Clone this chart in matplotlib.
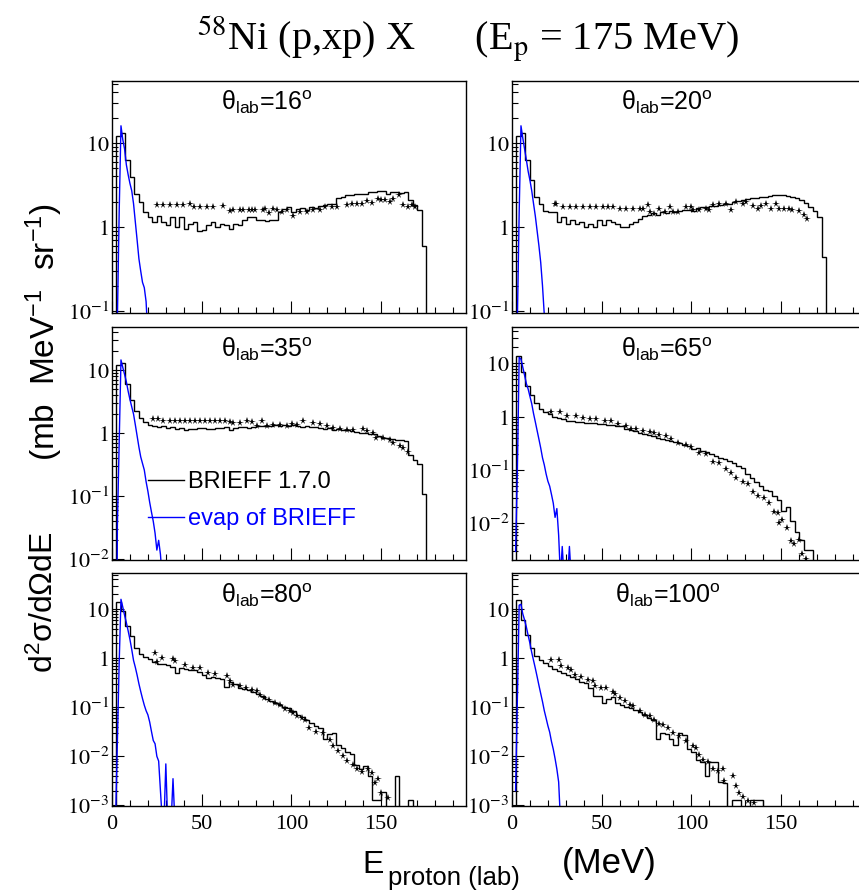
import numpy as np
import matplotlib
matplotlib.use("Agg")
import matplotlib.pyplot as plt
from matplotlib.ticker import FixedLocator, LogLocator, NullFormatter, FuncFormatter, MultipleLocator
from matplotlib.lines import Line2D

# ---------------- data ----------------
EDGES = np.arange(0, 175.01, 2.5)          # BRIEFF histogram bin edges (MeV)
E_EVAP = np.arange(2, 36)                   # evaporation curve energies (MeV)

ANGLES = [16, 20, 35, 65, 80, 100]

H16 = [0, 12, 13, 6.2, 3.9, 2.5, 2.0, 1.5, 1.3, 1.15,
       1.35, 1.15, 1.05, 1.3, 1.0, 1.3, 0.95, 1.08, 1.15, 0.9,
       0.93, 1.05, 1.15, 1.0, 1.1, 1.05, 0.95, 1.08, 1.05, 1.2,
       1.3, 1.3, 1.22, 1.22, 1.18, 1.2, 1.22, 1.5, 1.65, 1.75,
       1.5, 1.65, 1.7, 1.6, 1.75, 1.7, 1.8, 1.85, 1.9, 1.9,
       2.2, 2.3, 2.4, 2.4, 2.45, 2.5, 2.5, 2.6, 2.6, 2.65,
       2.7, 2.5, 2.6, 2.6, 2.55, 2.6, 2.1, 1.85, 1.6, 0.59]
H20 = [0, 12, 13, 6.2, 3.6, 2.3, 1.9, 1.55, 1.5, 1.5,
       1.15, 1.3, 1.1, 1.2, 1.1, 1.15, 1.0, 1.1, 1.0, 1.2,
       1.05, 1.2, 1.15, 1.1, 1.0, 1.0, 1.08, 1.15, 1.25, 1.35,
       1.4, 1.45, 1.4, 1.5, 1.45, 1.55, 1.5, 1.55, 1.6, 1.6,
       1.55, 1.7, 1.75, 1.75, 1.8, 1.8, 1.85, 1.9, 1.9, 2.0,
       2.05, 2.1, 2.15, 2.2, 2.2, 2.25, 2.3, 2.35, 2.4, 2.4,
       2.4, 2.35, 2.3, 2.2, 2.1, 1.95, 1.75, 1.55, 1.3, 0.44]
H35 = [0, 12, 13, 6.0, 3.3, 2.2, 1.7, 1.5, 1.35, 1.3,
       1.25, 1.28, 1.2, 1.25, 1.15, 1.2, 1.1, 1.18, 1.15, 1.2,
       1.2, 1.18, 1.15, 1.2, 1.2, 1.25, 1.1, 1.2, 1.25, 1.25,
       1.2, 1.25, 1.3, 1.3, 1.28, 1.3, 1.32, 1.3, 1.35, 1.3,
       1.32, 1.28, 1.25, 1.28, 1.25, 1.25, 1.2, 1.15, 1.2, 1.12,
       1.15, 1.1, 1.12, 1.08, 1.05, 1.0, 1.02, 0.98, 0.95, 0.9,
       0.85, 0.82, 0.8, 0.78, 0.78, 0.76, 0.45, 0.38, 0.32, 0.11]
H65 = [0, 14, 7, 3.8, 2.6, 1.8, 1.4, 1.25, 1.15, 1.0,
       0.95, 0.9, 0.85, 0.82, 0.8, 0.8, 0.78, 0.76, 0.75, 0.74,
       0.72, 0.7, 0.7, 0.68, 0.66, 0.6, 0.56, 0.55, 0.5, 0.47,
       0.46, 0.43, 0.4, 0.39, 0.37, 0.35, 0.34, 0.32, 0.29, 0.28,
       0.25, 0.26, 0.23, 0.22, 0.2, 0.18, 0.17, 0.16, 0.15, 0.135,
       0.12, 0.11, 0.085, 0.07, 0.06, 0.05, 0.043, 0.04, 0.032, 0.027,
       0.017, 0.02, 0.011, 0.007, 0.005, 0.0032, 0.0032, 0, 0, 0]
H80 = [0, 14, 9, 4.5, 2.8, 1.6, 1.2, 1.05, 0.95, 0.82,
       0.77, 0.77, 0.72, 0.66, 0.5, 0.64, 0.6, 0.58, 0.58, 0.52,
       0.45, 0.4, 0.42, 0.4, 0.38, 0.26, 0.33, 0.3, 0.25, 0.24,
       0.22, 0.2, 0.19, 0.17, 0.15, 0.135, 0.12, 0.11, 0.1, 0.095,
       0.085, 0.07, 0.062, 0.055, 0.048, 0.042, 0.037, 0.022, 0.028, 0.03,
       0.017, 0.015, 0.012, 0.011, 0.0065, 0.0055, 0.0062, 0.004, 0.0013, 0.0013,
       0.0019, 0, 0, 0.004, 0, 0, 0.0013, 0, 0, 0]
H100 = [0, 15, 6, 3, 1.6, 1.1, 0.92, 0.8, 0.7, 0.6,
        0.55, 0.5, 0.46, 0.42, 0.38, 0.33, 0.31, 0.25, 0.17, 0.17,
        0.12, 0.15, 0.16, 0.12, 0.11, 0.1, 0.095, 0.088, 0.08, 0.07,
        0.06, 0.055, 0.022, 0.03, 0.028, 0.022, 0.017, 0.03, 0.027, 0.014,
        0.012, 0.0085, 0.0075, 0.004, 0.0075, 0.0075, 0.003, 0.0028, 0, 0.0013,
        0.0013, 0, 0, 0.0013, 0.0013, 0.0013, 0, 0, 0, 0,
        0, 0, 0, 0, 0, 0, 0, 0, 0, 0]

EV16 = [0, 0.08, 1.5, 16, 11, 8.5, 5.5, 4.2, 3.3, 2.7, 1.9, 1.15, 0.7, 0.42, 0.3, 0.22,
        0.19, 0.13, 0.05, 0, 0, 0, 0, 0, 0, 0, 0, 0, 0, 0, 0, 0, 0, 0]
EV20 = [0, 0.08, 1.5, 16, 11.5, 8.5, 6.3, 4.6, 3.6, 2.7, 1.9, 1.35, 0.9, 0.6, 0.38, 0.2,
        0.09, 0.05, 0, 0, 0, 0, 0, 0, 0, 0, 0, 0, 0, 0, 0, 0, 0, 0]
EV35 = [0, 0.034, 0.7, 14.4, 11, 8.5, 6.5, 4.6, 3.4, 2.6, 2.0, 1.35, 0.9, 0.6, 0.42, 0.33,
        0.26, 0.17, 0.12, 0.08, 0.056, 0.04, 0.026, 0.014, 0.02, 0.012, 0.005, 0, 0, 0, 0, 0, 0, 0]
EV65 = [0.003, 0.1, 13, 12, 8.5, 6, 4.2, 3.3, 2.4, 1.75, 1.15, 0.8, 0.55, 0.38, 0.26, 0.17,
        0.125, 0.085, 0.062, 0.05, 0.035, 0.024, 0.013, 0.019, 0.006, 0.001, 0.0037, 0.001,
        0.001, 0.001, 0.0037, 0.001, 0, 0]
EV80 = [0.0005, 0.02, 0.8, 15.8, 11, 7.5, 5.3, 3.6, 2.4, 1.5, 0.9, 0.65, 0.45, 0.3, 0.21, 0.15,
        0.11, 0.085, 0.07, 0.05, 0.032, 0.021, 0.018, 0.01, 0.008, 0.002, 0.0005, 0.0005,
        0.007, 0.0005, 0.0005, 0.0005, 0.0035, 0.0005]
EV100 = [0.002, 0.15, 12, 12.5, 8, 6, 4.3, 2.9, 2.0, 1.3, 0.9, 0.62, 0.42, 0.28, 0.19, 0.13,
         0.085, 0.06, 0.042, 0.031, 0.02, 0.014, 0.009, 0.0055, 0.003, 0.0005, 0, 0, 0, 0, 0, 0, 0, 0]

SE16 = [24.9, 28.6, 32.3, 36.0, 39.7, 43.5, 45.7, 49.0, 52.7, 56.5, 62.0, 65.7, 67.6, 71.3, 72.8,
        76.5, 77.8, 79.7, 84.0, 85.2, 87.7, 89.9, 91.7, 94.5, 97.3, 101.0, 104.7, 108.5, 112.2,
        115.9, 118.7, 122.4, 125.2, 130.7, 133.5, 136.3, 139.1, 141.9, 144.7, 148.4, 150.2,
        152.1, 154.9, 156.7, 160.0, 162.3, 165.1, 167.0, 168.8]
SV16 = [1.81, 1.81, 1.81, 1.81, 1.81, 1.86, 1.74, 1.74, 1.74, 1.74, 1.78, 1.55, 1.58, 1.58, 1.58,
        1.58, 1.58, 1.58, 1.58, 1.62, 1.47, 1.62, 1.58, 1.51, 1.58, 1.34, 1.51, 1.51, 1.58,
        1.58, 1.71, 1.71, 1.71, 1.81, 1.86, 1.90, 1.90, 2.04, 1.94, 2.18, 2.12,
        2.08, 1.99, 2.18, 2.39, 1.81, 1.74, 1.81, 1.71]
SE20 = [23.9, 24.8, 28.5, 32.2, 35.9, 39.6, 43.3, 47.0, 50.7, 53.5, 56.3, 60.0, 63.7, 67.4, 71.1,
        73.0, 75.7, 76.7, 79.4, 82.2, 85.0, 87.8, 89.6, 92.4, 97.0, 99.8, 100.7, 104.4, 108.1,
        110.0, 111.9, 115.6, 119.3, 122.0, 124.8, 128.5, 130.4, 134.1, 136.9, 138.7, 141.5,
        144.3, 147.0, 148.9, 151.7, 154.4, 156.3, 160.0, 162.8, 164.6]
SV20 = [1.90, 1.90, 1.74, 1.74, 1.74, 1.74, 1.74, 1.74, 1.74, 1.74, 1.74, 1.66, 1.66, 1.66, 1.66,
        1.66, 1.82, 1.51, 1.44, 1.66, 1.51, 1.74, 1.51, 1.51, 1.74, 1.74, 1.58, 1.58, 1.66,
        1.58, 1.82, 1.90, 1.90, 1.58, 1.99, 1.90, 1.99, 1.77, 1.62, 1.77, 1.90,
        1.66, 1.90, 1.66, 1.66, 1.62, 1.58, 1.55, 1.38, 1.26]
SE35 = [23.0, 25.8, 28.6, 32.3, 35.1, 37.9, 40.7, 43.5, 46.2, 49.0, 51.8, 54.6, 57.4, 60.2, 63.0,
        65.7, 67.6, 71.3, 75.0, 77.8, 80.6, 83.4, 86.2, 89.9, 93.6, 97.3, 100.1, 102.9, 106.6,
        112.2, 115.9, 119.6, 123.3, 127.0, 130.7, 134.4, 140.0, 141.9, 145.6, 147.4, 151.2,
        154.9, 156.7, 160.4, 162.3, 165.1]
SV35 = [1.66, 1.68, 1.57, 1.57, 1.57, 1.57, 1.57, 1.57, 1.57, 1.57, 1.57, 1.57, 1.57, 1.57, 1.57,
        1.47, 1.44, 1.44, 1.53, 1.47, 1.31, 1.53, 1.31, 1.35, 1.35, 1.31, 1.40, 1.35, 1.58,
        1.44, 1.40, 1.31, 1.20, 1.16, 1.13, 1.13, 1.16, 1.06, 1.0, 0.83, 0.83,
        0.78, 0.70, 0.63, 0.58, 0.51]
SE65 = [21.5, 26.7, 30.4, 35.9, 39.6, 43.3, 47.0, 51.7, 55.4, 59.1, 63.7, 66.5, 69.3, 73.0, 76.7,
        79.4, 82.2, 85.9, 88.7, 92.4, 97.0, 99.8, 104.4, 108.1, 111.9, 115.6, 119.3, 122.0,
        124.8, 128.5, 131.3, 134.1, 136.9, 140.6, 143.3, 146.1, 148.0, 148.9, 150.7, 153.5,
        155.4, 157.2, 160.0, 161.9, 163.7]
SV65 = [1.24, 1.24, 1.03, 1.03, 0.93, 0.89, 0.89, 0.84, 0.83, 0.73, 0.67, 0.60, 0.60, 0.55, 0.52,
        0.49, 0.45, 0.43, 0.376, 0.316, 0.294, 0.27, 0.21, 0.197, 0.143, 0.137, 0.107, 0.087,
        0.07, 0.06, 0.056, 0.039, 0.0326, 0.0295, 0.0237, 0.0166, 0.016, 0.01, 0.0115, 0.0081,
        0.0046, 0.0042, 0.0049, 0.0027, 0.0022]
SE80 = [24.0, 24.9, 27.7, 34.2, 35.1, 40.7, 45.3, 49.0, 53.7, 57.4, 64.0, 66.0, 67.6, 71.3, 74.7,
        77.8, 80.6, 82.5, 84.7, 87.7, 90.8, 93.6, 96.4, 99.2, 101.0, 102.9, 105.7, 107.5, 109.9,
        113.6, 117.7, 121.4, 123.3, 126.1, 128.9, 130.7, 134.4, 136.3, 139.1, 142.8, 144.7,
        146.5, 148.4, 150.2, 153.9]
SV80 = [1.26, 0.82, 1.0, 0.95, 0.855, 0.73, 0.63, 0.63, 0.50, 0.48, 0.44, 0.35, 0.287, 0.274, 0.245,
        0.22, 0.21, 0.18, 0.154, 0.142, 0.122, 0.109, 0.093, 0.082, 0.078, 0.067, 0.06, 0.056,
        0.0377, 0.032, 0.030, 0.0218, 0.016, 0.0126, 0.01, 0.0079, 0.0065, 0.0055, 0.0048,
        0.0054, 0.0046, 0.0029, 0.0034, 0.0018, 0.0014]
SE100 = [21.5, 26.0, 27.5, 31.3, 33.1, 35.0, 38.7, 42.4, 45.2, 46.1, 49.8, 52.6, 56.3, 57.2, 60.0,
         62.8, 65.6, 67.4, 71.1, 73.9, 76.7, 79.4, 82.2, 84.1, 86.9, 89.6, 93.3, 97.0, 100.7,
         102.6, 104.4, 106.3, 109.1, 111.9, 114.6, 117.4, 118.3, 123.0, 124.8, 126.7, 128.5,
         131.3, 135.0]
SV100 = [0.92, 0.92, 0.68, 0.63, 0.58, 0.46, 0.42, 0.36, 0.335, 0.274, 0.245, 0.245, 0.2, 0.188,
         0.154, 0.131, 0.112, 0.104, 0.082, 0.07, 0.065, 0.054, 0.046, 0.044, 0.0377, 0.030,
         0.0263, 0.0202, 0.016, 0.0148, 0.0108, 0.0086, 0.0075, 0.0054, 0.005, 0.0054, 0.0031,
         0.0039, 0.0025, 0.0018, 0.0015, 0.0012, 0.0011]

YLIMS = [(0.095, 55), (0.095, 55), (0.0099, 47.3), (0.0021, 47.5), (0.00099, 53.5), (0.00099, 53.5)]

HISTS = [H16, H20, H35, H65, H80, H100]
EVAPS = [EV16, EV20, EV35, EV65, EV80, EV100]
STAR_E = [SE16, SE20, SE35, SE65, SE80, SE100]
STAR_V = [SV16, SV20, SV35, SV65, SV80, SV100]

LEGEND_LABELS = ['BRIEFF 1.7.0', 'evap of BRIEFF']

# ---------------- style ----------------
plt.rcParams['mathtext.fontset'] = 'stix'
plt.rcParams['mathtext.rm'] = 'Liberation Sans'
plt.rcParams['mathtext.it'] = 'Liberation Sans:italic'
plt.rcParams['mathtext.bf'] = 'Liberation Sans:bold'
plt.rcParams['mathtext.sf'] = 'Liberation Sans'
plt.rcParams['font.family'] = ['Liberation Sans', 'DejaVu Sans']

W, H = 859, 892
fig = plt.figure(figsize=(W / 100, H / 100), dpi=100)

def add_ax(left, top, width, height):
    return fig.add_axes([left / W, 1 - (top + height) / H, width / W, height / H])

LEFTS = [112, 512]
TOPS = [80.7, 327.3, 573.3]
AXW, AXH = 354, 232.3

def ylabel_fmt(v, pos):
    n = int(round(np.log10(v)))
    if n == 0:
        return r'$1\enspace\;$'
    if n == 1:
        return r'$10\enspace\;$'
    return r'$10^{%d}$' % n

BLUE = '#0000ff'
for i, ang in enumerate(ANGLES):
    row, col = divmod(i, 2)
    ax = add_ax(LEFTS[col], TOPS[row], AXW, AXH)
    ax.set_yscale('log')
    h = np.clip(np.asarray(HISTS[i], float), 1e-7, None)
    ax.stairs(h, EDGES, baseline=1e-7, color='black', lw=1.0)
    ev = np.clip(np.asarray(EVAPS[i], float), 1e-7, None)
    ax.plot(E_EVAP, ev, color=BLUE, lw=1.0)
    ax.plot(STAR_E[i], STAR_V[i], ls='none', marker='*', ms=5.5, mew=0, color='black')
    ax.set_xlim(0, 197.3)
    ax.set_ylim(*YLIMS[i])

    lo, hi = YLIMS[i]
    decades = [10.0 ** k for k in range(-4, 3) if lo * 0.999 <= 10.0 ** k <= hi]
    ax.yaxis.set_major_locator(FixedLocator(decades))
    ax.yaxis.set_minor_locator(LogLocator(base=10, subs=np.arange(2, 10), numticks=30))
    ax.yaxis.set_major_formatter(FuncFormatter(ylabel_fmt))
    ax.yaxis.set_minor_formatter(NullFormatter())
    ax.xaxis.set_major_locator(MultipleLocator(50))
    ax.xaxis.set_minor_locator(MultipleLocator(10))

    ax.tick_params(axis='both', which='both', direction='in', top=False, right=False, width=0.8)
    ax.tick_params(axis='y', which='major', length=8.5, pad=2, labelsize=16)
    ax.tick_params(axis='y', which='minor', length=4.5)
    ax.tick_params(axis='x', which='major', length=9, pad=7, labelsize=16,
                   labelfontfamily='Liberation Serif')
    ax.tick_params(axis='x', which='minor', length=4.5)
    if row < 2:
        ax.tick_params(axis='x', labelbottom=False)
    for sp in ax.spines.values():
        sp.set_linewidth(1.0)

    ax.text(0.439, 0.875, r'θ$_{\rm lab}$=%d$^{\rm o}$' % ang, transform=ax.transAxes,
            ha='center', va='baseline', fontsize=18, math_fontfamily='custom')

    if i == 2:
        handles = [Line2D([], [], color='black', lw=1.0), Line2D([], [], color=BLUE, lw=1.0)]
        ax.legend(handles, LEGEND_LABELS, loc='upper left',
                  bbox_to_anchor=(0.102, 0.38), frameon=False, fontsize=17,
                  handlelength=1.5, handletextpad=0.2, labelspacing=0.62, borderpad=0,
                  borderaxespad=0, labelcolor=['black', BLUE])

# title
fig.text(197 / W, 1 - 50 / H, r'$^{58}$Ni (p,xp) X      (E$_{\rm p}$ = 175 MeV)',
         fontsize=29, family='Liberation Serif', ha='left', va='baseline', math_fontfamily='stix')

# y label
fig.text(44 / W, 1 - 602 / H, r'd$^{2}$σ/dΩdE', rotation=90, ha='center', va='center',
         fontsize=23, math_fontfamily='custom')
fig.text(44 / W, 1 - 332 / H, r'(mb  MeV$^{-1}$  sr$^{-1}$)', rotation=90, ha='center', va='center',
         fontsize=24, math_fontfamily='custom')

# x label
fig.text(362 / W, 1 - 873 / H, 'E', fontsize=23, ha='left', va='baseline')
fig.text(388 / W, 1 - 885 / H, 'proton (lab)', fontsize=18.5, ha='left', va='baseline')
fig.text(562 / W, 1 - 873 / H, '(MeV)', fontsize=25, ha='left', va='baseline')

fig.savefig('out.png', dpi=100)
